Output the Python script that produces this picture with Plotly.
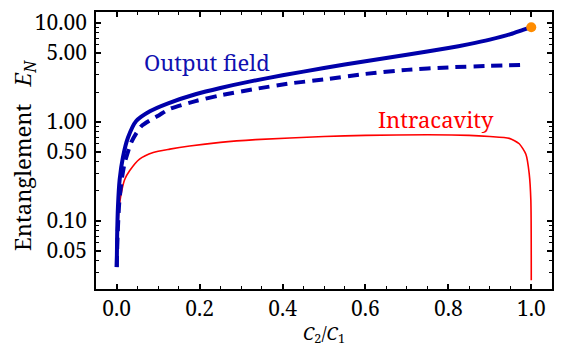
import plotly.graph_objects as go

# Output field (solid)
out_x = [0.0, 0.001, 0.003, 0.007, 0.015, 0.027, 0.047, 0.08, 0.124, 0.19, 0.25, 0.32,
         0.4, 0.5, 0.6, 0.7, 0.8, 0.85, 0.9, 0.95, 0.98, 1.0]
out_y = [0.034, 0.07, 0.14, 0.26, 0.44, 0.69, 1.02, 1.28, 1.54, 1.9, 2.2, 2.55,
         2.95, 3.5, 4.1, 4.76, 5.57, 6.1, 6.78, 7.7, 8.5, 9.05]

# Output field (dashed)
dash_x = [0.0, 0.002, 0.006, 0.012, 0.019, 0.035, 0.059, 0.104, 0.128, 0.19, 0.25, 0.335,
          0.42, 0.5, 0.6, 0.7, 0.8, 0.9, 0.987]
dash_y = [0.034, 0.07, 0.15, 0.26, 0.38, 0.62, 0.9, 1.18, 1.35, 1.62, 1.85, 2.15,
          2.45, 2.68, 3.05, 3.35, 3.55, 3.68, 3.77]

# Intracavity
intra_x = [0.0, 0.002, 0.004, 0.007, 0.012, 0.019, 0.031, 0.055, 0.088, 0.128, 0.176, 0.25,
           0.335, 0.5, 0.6, 0.75, 0.85, 0.9, 0.947, 0.971, 0.987, 0.995, 0.999, 1.0]
intra_y = [0.034, 0.07, 0.11, 0.15, 0.2, 0.26, 0.32, 0.42, 0.49, 0.53, 0.57, 0.62,
           0.66, 0.71, 0.73, 0.74, 0.73, 0.71, 0.68, 0.6, 0.47, 0.30, 0.16, 0.025]

# end point marker
dot_x = [1.0]
dot_y = [9.05]

y_tickvals = [0.05, 0.1, 0.5, 1, 5, 10]
y_ticktext = ["0.05", "0.10", "0.50", "1.00", "5.00", "10.00"]
y_minor = [0.02, 0.03, 0.04, 0.06, 0.07, 0.08, 0.09, 0.2, 0.3, 0.4, 0.6, 0.7, 0.8, 0.9,
           2, 3, 4, 6, 7, 8, 9]
x_tickvals = [0.0, 0.2, 0.4, 0.6, 0.8, 1.0]
x_ticktext = ["0.0", "0.2", "0.4", "0.6", "0.8", "1.0"]

BLUE = "#0000AA"
RED = "#FF0000"
FONT = "Noto Serif"

fig = go.Figure()
fig.add_trace(go.Scatter(x=intra_x, y=intra_y, mode="lines",
                         line=dict(color=RED, width=1.6, shape="spline", smoothing=0.6)))
fig.add_trace(go.Scatter(x=dash_x, y=dash_y, mode="lines",
                         line=dict(color=BLUE, width=4, dash="11px,7px", shape="spline",
                                   smoothing=0.6)))
fig.add_trace(go.Scatter(x=out_x, y=out_y, mode="lines",
                         line=dict(color=BLUE, width=4, shape="spline", smoothing=0.6)))
fig.add_trace(go.Scatter(x=dot_x, y=dot_y, mode="markers",
                         marker=dict(color="#FF8C00", size=10, line=dict(width=0))))

fig.add_annotation(x=0.217, y=0.603, xref="x", yref="y", text="Output field",
                   showarrow=False, font=dict(family=FONT, size=22, color="#1010B0"))
fig.add_annotation(x=0.771, y=0.027, xref="x", yref="y", text="Intracavity",
                   showarrow=False, font=dict(family=FONT, size=22, color=RED))

# y-axis title as rotated annotation
fig.add_annotation(x=-0.158, y=0.484, xref="paper", yref="paper", textangle=-90,
                   xanchor="center", yanchor="middle", showarrow=False,
                   text="Entanglement&nbsp;&nbsp;&nbsp;<i>E</i><sub><i>N</i></sub>",
                   font=dict(family=FONT, size=22, color="black"))

axis_common = dict(showline=True, linecolor="black", linewidth=1.5, mirror="allticks",
                   ticks="inside", tickcolor="black", tickwidth=1.5, ticklen=5,
                   showgrid=False, zeroline=False,
                   tickfont=dict(family=FONT, size=21, color="black"))

fig.update_xaxes(range=[-0.05, 1.05], tickvals=x_tickvals, ticktext=x_ticktext,
                 minor=dict(dtick=0.05, tick0=0, ticks="inside", ticklen=3, tickcolor="black",
                            tickwidth=1, showgrid=False),
                 title=dict(text="<i>C</i><sub>2</sub>/<i>C</i><sub>1</sub>",
                            font=dict(family=FONT, size=18, color="black"), standoff=6),
                 **axis_common)
fig.update_yaxes(type="log", range=[-1.69, 1.11], tickvals=y_tickvals, ticktext=y_ticktext,
                 ticklabelstandoff=3,
                 minor=dict(tickvals=y_minor, ticks="inside", ticklen=3, tickcolor="black",
                            tickwidth=1, showgrid=False),
                 **axis_common)

fig.update_layout(width=562, height=354, margin=dict(l=96, r=9, t=8, b=65),
                  paper_bgcolor="white", plot_bgcolor="white", showlegend=False,
                  font=dict(family=FONT))

fig.write_html("out.html")
